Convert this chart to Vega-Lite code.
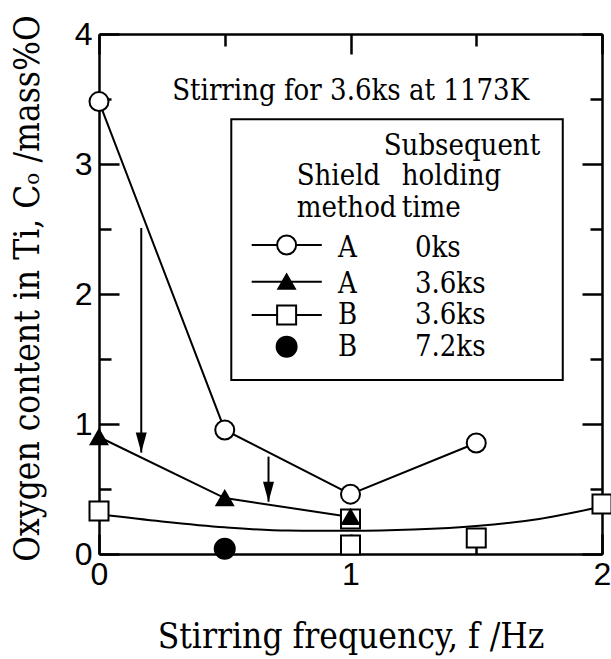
{
  "$schema": "https://vega.github.io/schema/vega-lite/v6.json",
  "width": 503,
  "height": 520,
  "autosize": {"type": "none"},
  "padding": {"left": 99, "top": 34, "right": 9, "bottom": 105},
  "background": "white",
  "config": {
    "view": {"stroke": null},
    "axis": {
      "grid": false,
      "domainColor": "black",
      "domainWidth": 2.5,
      "tickColor": "black",
      "tickWidth": 2.5,
      "labelColor": "black",
      "labelFont": "Liberation Sans",
      "labelFontSize": 32,
      "labelFlush": false,
      "labelOverlap": false,
      "labelBound": false,
      "titleColor": "black",
      "titleFont": "DejaVu Serif Condensed, DejaVu Serif",
      "titleFontSize": 35,
      "titleFontWeight": "normal"
    }
  },
  "datasets": {
    "points": [
      {"series": "B36", "f": 0, "c": 0.33},
      {"series": "B36", "f": 1, "c": 0.27},
      {"series": "B36", "f": 1, "c": 0.07},
      {"series": "B36", "f": 1.5, "c": 0.123},
      {"series": "B36", "f": 2, "c": 0.385},
      {"series": "A36", "f": 0, "c": 0.9},
      {"series": "A36", "f": 0.5, "c": 0.43},
      {"series": "A36", "f": 1, "c": 0.285},
      {"series": "A0", "f": 0, "c": 3.48},
      {"series": "A0", "f": 0.5, "c": 0.954},
      {"series": "A0", "f": 1, "c": 0.46},
      {"series": "A0", "f": 1.5, "c": 0.854},
      {"series": "B72", "f": 0.5, "c": 0.04}
    ],
    "curve": [
      {"f": 0, "c": 0.305},
      {"f": 0.25, "c": 0.25},
      {"f": 0.5, "c": 0.205},
      {"f": 0.75, "c": 0.18},
      {"f": 1, "c": 0.178},
      {"f": 1.25, "c": 0.188},
      {"f": 1.5, "c": 0.215},
      {"f": 1.75, "c": 0.27},
      {"f": 2, "c": 0.365}
    ],
    "arrows": [
      {"f": 0.168, "top": 2.508, "tip": 0.78},
      {"f": 0.674, "top": 0.749, "tip": 0.402}
    ],
    "legendSymbols": [
      {"series": "A0", "f": 0.746, "c": 2.377},
      {"series": "A36", "f": 0.746, "c": 2.095},
      {"series": "B36", "f": 0.746, "c": 1.838},
      {"series": "B72", "f": 0.746, "c": 1.595}
    ],
    "legendLines": [
      {"f1": 0.607, "f2": 0.886, "c": 2.377},
      {"f1": 0.607, "f2": 0.886, "c": 2.095},
      {"f1": 0.607, "f2": 0.886, "c": 1.838}
    ],
    "texts": [
      {"f": 0.291, "c": 3.492, "text": "Stirring for 3.6ks at 1173K"},
      {"f": 1.132, "c": 3.069, "text": "Subsequent"},
      {"f": 0.786, "c": 2.838, "text": "Shield"},
      {"f": 1.204, "c": 2.838, "text": "holding"},
      {"f": 0.786, "c": 2.595, "text": "method"},
      {"f": 1.204, "c": 2.595, "text": "time"},
      {"f": 0.95, "c": 2.287, "text": "A"},
      {"f": 1.256, "c": 2.287, "text": "0ks"},
      {"f": 0.95, "c": 2.005, "text": "A"},
      {"f": 1.256, "c": 2.005, "text": "3.6ks"},
      {"f": 0.95, "c": 1.769, "text": "B"},
      {"f": 1.256, "c": 1.769, "text": "3.6ks"},
      {"f": 0.95, "c": 1.523, "text": "B"},
      {"f": 1.256, "c": 1.523, "text": "7.2ks"}
    ],
    "box": [{"f1": 0.526, "f2": 1.844, "c1": 3.344, "c2": 1.338}]
  },
  "layer": [
    {
      "data": {"name": "box"},
      "mark": {"type": "rect", "fill": "white", "stroke": "black", "strokeWidth": 2},
      "encoding": {
        "x": {
          "field": "f1", "type": "quantitative",
          "scale": {"domain": [0, 2], "nice": false, "zero": false},
          "axis": {
            "orient": "bottom",
            "values": [0, 0.5, 1, 1.5, 2],
            "labelExpr": "datum.value % 1 === 0 ? format(datum.value, 'd') : ''",
            "tickSize": {"condition": {"test": "datum.value % 1 === 0", "value": -20}, "value": -12},
            "labelPadding": 25,
            "title": "Stirring frequency, f /Hz",
            "titleY": 93,
            "titleBaseline": "alphabetic"
          }
        },
        "x2": {"field": "f2"},
        "y": {
          "field": "c1", "type": "quantitative",
          "scale": {"domain": [0, 4], "nice": false, "zero": false},
          "axis": {
            "orient": "left",
            "values": [0, 0.5, 1, 1.5, 2, 2.5, 3, 3.5, 4],
            "labelExpr": "datum.value % 1 === 0 ? format(datum.value, 'd') : ''",
            "tickSize": {"condition": {"test": "datum.value % 1 === 0", "value": -20}, "value": -12},
            "labelPadding": 27,
            "title": "Oxygen content in Ti, Cₒ /mass%O",
            "titleAngle": -90,
            "titleX": -61,
            "titleY": 254,
            "titleAlign": "center",
            "titleBaseline": "alphabetic"
          }
        },
        "y2": {"field": "c2"}
      }
    },
    {
      "data": {"name": "curve"},
      "mark": {"type": "line", "color": "black", "strokeWidth": 2, "interpolate": "monotone"},
      "encoding": {
        "x": {
          "field": "f", "type": "quantitative",
          "axis": {
            "orient": "top",
            "values": [0, 0.5, 1, 1.5, 2],
            "labels": false,
            "title": null,
            "tickSize": {"condition": {"test": "datum.value % 1 === 0", "value": -20}, "value": -12}
          }
        },
        "y": {
          "field": "c", "type": "quantitative",
          "axis": {
            "orient": "right",
            "values": [0, 0.5, 1, 1.5, 2, 2.5, 3, 3.5, 4],
            "labels": false,
            "title": null,
            "tickSize": {"condition": {"test": "datum.value % 1 === 0", "value": -20}, "value": -12}
          }
        }
      }
    },
    {
      "data": {"name": "points"},
      "transform": [{"filter": "datum.series === 'A0' || datum.series === 'A36'"}],
      "mark": {"type": "line", "color": "black", "strokeWidth": 2},
      "encoding": {
        "x": {"field": "f", "type": "quantitative", "axis": null},
        "y": {"field": "c", "type": "quantitative", "axis": null},
        "detail": {"field": "series", "type": "nominal"}
      }
    },
    {
      "data": {"name": "legendLines"},
      "mark": {"type": "rule", "color": "black", "strokeWidth": 2},
      "encoding": {
        "x": {"field": "f1", "type": "quantitative", "axis": null},
        "x2": {"field": "f2"},
        "y": {"field": "c", "type": "quantitative", "axis": null}
      }
    },
    {
      "data": {"name": "arrows"},
      "mark": {"type": "rule", "color": "black", "strokeWidth": 2},
      "encoding": {
        "x": {"field": "f", "type": "quantitative", "axis": null},
        "y": {"field": "top", "type": "quantitative", "axis": null},
        "y2": {"field": "tip"}
      }
    },
    {
      "data": {"name": "arrows"},
      "mark": {"type": "point", "shape": "M0,0L-0.55,-2L0.55,-2Z", "filled": true, "color": "black", "opacity": 1, "size": 400, "strokeWidth": 0},
      "encoding": {
        "x": {"field": "f", "type": "quantitative", "axis": null},
        "y": {"field": "tip", "type": "quantitative", "axis": null}
      }
    },
    {
      "data": {"name": "points"},
      "mark": {"type": "point", "filled": true, "stroke": "black", "strokeWidth": 2, "opacity": 1},
      "encoding": {
        "x": {"field": "f", "type": "quantitative", "axis": null},
        "y": {"field": "c", "type": "quantitative", "axis": null},
        "shape": {"field": "series", "type": "nominal", "legend": null,
          "scale": {"domain": ["A0", "A36", "B36", "B72"], "range": ["circle", "triangle-up", "square", "circle"]}},
        "fill": {"field": "series", "type": "nominal", "legend": null,
          "scale": {"domain": ["A0", "A36", "B36", "B72"], "range": ["white", "black", "white", "black"]}},
        "size": {"field": "series", "type": "nominal", "legend": null,
          "scale": {"type": "ordinal", "domain": ["A0", "A36", "B36", "B72"], "range": [361, 272, 361, 400]}}
      }
    },
    {
      "data": {"name": "legendSymbols"},
      "mark": {"type": "point", "filled": true, "stroke": "black", "strokeWidth": 2, "opacity": 1},
      "encoding": {
        "x": {"field": "f", "type": "quantitative", "axis": null},
        "y": {"field": "c", "type": "quantitative", "axis": null},
        "shape": {"field": "series", "type": "nominal", "legend": null,
          "scale": {"domain": ["A0", "A36", "B36", "B72"], "range": ["circle", "triangle-up", "square", "circle"]}},
        "fill": {"field": "series", "type": "nominal", "legend": null,
          "scale": {"domain": ["A0", "A36", "B36", "B72"], "range": ["white", "black", "white", "black"]}},
        "size": {"field": "series", "type": "nominal", "legend": null,
          "scale": {"type": "ordinal", "domain": ["A0", "A36", "B36", "B72"], "range": [361, 272, 361, 400]}}
      }
    },
    {
      "data": {"name": "texts"},
      "mark": {"type": "text", "font": "DejaVu Serif Condensed, DejaVu Serif", "fontSize": 29, "align": "left", "baseline": "alphabetic", "color": "black"},
      "encoding": {
        "x": {"field": "f", "type": "quantitative", "axis": null},
        "y": {"field": "c", "type": "quantitative", "axis": null},
        "text": {"field": "text", "type": "nominal"}
      }
    }
  ],
  "resolve": {"axis": {"x": "independent", "y": "independent"}}
}
